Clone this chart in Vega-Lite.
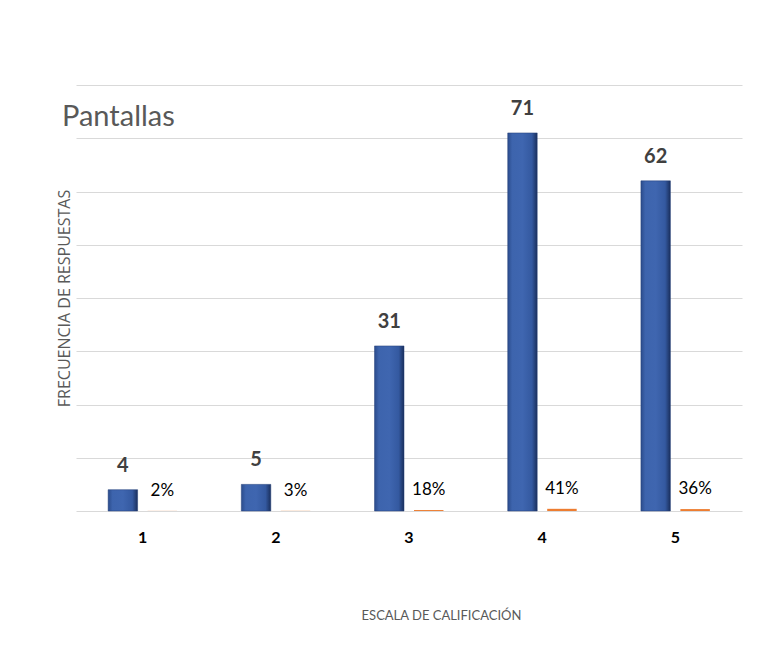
{
  "$schema": "https://vega.github.io/schema/vega-lite/v6.json",
  "autosize": {"type": "none"},
  "width": 666,
  "height": 426,
  "padding": {"left": 76, "top": 85, "right": 29, "bottom": 149},
  "background": "#ffffff",
  "title": {
    "text": "Pantallas",
    "anchor": "start",
    "frame": "group",
    "orient": "top",
    "offset": 0,
    "baseline": "alphabetic",
    "dx": -14,
    "dy": 70,
    "font": "Lato",
    "fontSize": 29,
    "fontWeight": "normal",
    "color": "#595959"
  },
  "data": {
    "values": [
      {"escala": "1", "serie": "Frecuencia", "valor": 4, "etiqueta": "4"},
      {"escala": "2", "serie": "Frecuencia", "valor": 5, "etiqueta": "5"},
      {"escala": "3", "serie": "Frecuencia", "valor": 31, "etiqueta": "31"},
      {"escala": "4", "serie": "Frecuencia", "valor": 71, "etiqueta": "71"},
      {"escala": "5", "serie": "Frecuencia", "valor": 62, "etiqueta": "62"},
      {"escala": "1", "serie": "Porcentaje", "valor": 0.02, "etiqueta": "2%"},
      {"escala": "2", "serie": "Porcentaje", "valor": 0.03, "etiqueta": "3%"},
      {"escala": "3", "serie": "Porcentaje", "valor": 0.18, "etiqueta": "18%"},
      {"escala": "4", "serie": "Porcentaje", "valor": 0.41, "etiqueta": "41%"},
      {"escala": "5", "serie": "Porcentaje", "valor": 0.36, "etiqueta": "36%"}
    ]
  },
  "encoding": {
    "x": {
      "field": "escala",
      "type": "nominal",
      "scale": {"paddingInner": 0.4, "paddingOuter": 0.2},
      "axis": {
        "title": "ESCALA DE CALIFICACIÓN",
        "titleFont": "Lato",
        "titleFontSize": 13,
        "titleFontWeight": "normal",
        "titleColor": "#595959",
        "titleX": 365,
        "titleY": 104,
        "titleBaseline": "middle",
        "labelAngle": 0,
        "labelFont": "Lato",
        "labelFontSize": 16,
        "labelFontWeight": "bold",
        "labelColor": "#000000",
        "labelBaseline": "middle",
        "labelPadding": 26,
        "ticks": false,
        "tickSize": 0,
        "domain": false,
        "grid": false
      }
    },
    "xOffset": {
      "field": "serie",
      "type": "nominal",
      "scale": {"domain": ["Frecuencia", "Porcentaje"], "paddingInner": 0.253, "paddingOuter": 0.139}
    },
    "y": {
      "field": "valor",
      "type": "quantitative",
      "scale": {"domain": [0, 80], "nice": false},
      "axis": {
        "title": "FRECUENCIA DE RESPUESTAS",
        "titleFont": "Open Sans",
        "titleFontSize": 16,
        "titleFontWeight": "normal",
        "titleColor": "#595959",
        "titlePadding": 4,
        "labels": false,
        "ticks": false,
        "tickSize": 0,
        "domain": false,
        "grid": true,
        "gridColor": "#d9d9d9",
        "gridWidth": 1,
        "values": [0, 10, 20, 30, 40, 50, 60, 70, 80]
      }
    }
  },
  "layer": [
    {
      "transform": [{"filter": "datum.serie === 'Frecuencia'"}],
      "mark": {
        "type": "bar",
        "fill": {
          "gradient": "linear",
          "x1": 0, "y1": 0, "x2": 1, "y2": 0,
          "stops": [
            {"offset": 0, "color": "#2b4c8c"},
            {"offset": 0.15, "color": "#3d64ad"},
            {"offset": 0.5, "color": "#3f66b0"},
            {"offset": 0.82, "color": "#3459a0"},
            {"offset": 1, "color": "#1a2f5c"}
          ]
        },
        "stroke": "#223f78",
        "strokeWidth": 0.5
      }
    },
    {
      "transform": [{"filter": "datum.serie === 'Porcentaje'"}],
      "mark": {"type": "bar", "color": "#ed7d31"}
    },
    {
      "transform": [{"filter": "datum.serie === 'Frecuencia'"}],
      "mark": {
        "type": "text",
        "baseline": "middle",
        "dy": -24,
        "font": "Lato",
        "fontSize": 20,
        "fontWeight": "bold",
        "color": "#404040"
      },
      "encoding": {"text": {"field": "etiqueta"}}
    },
    {
      "transform": [{"filter": "datum.serie === 'Porcentaje'"}],
      "mark": {
        "type": "text",
        "baseline": "middle",
        "dy": -20,
        "font": "Lato",
        "fontSize": 17,
        "fontWeight": "normal",
        "color": "#000000"
      },
      "encoding": {"text": {"field": "etiqueta"}}
    }
  ],
  "config": {
    "view": {"stroke": null}
  }
}
